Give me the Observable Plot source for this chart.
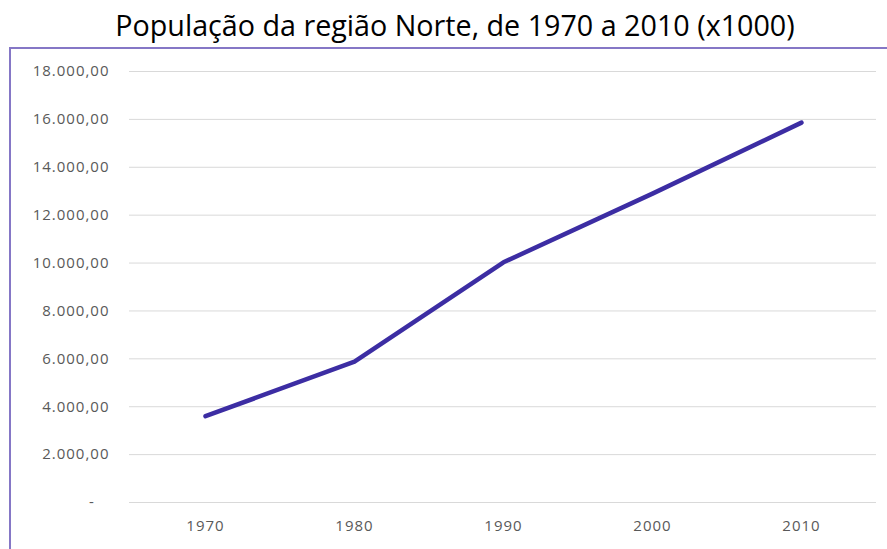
<!DOCTYPE html>
<html>
<head>
<meta charset="utf-8">
<script src="https://cdn.jsdelivr.net/npm/d3@7"></script>
<script src="https://cdn.jsdelivr.net/npm/@observablehq/plot@0.6"></script>
<style>
  html, body { margin: 0; padding: 0; background: #fff; overflow: hidden; width: 887px; height: 549px; }
  #title { position: absolute; left: 9px; width: 892px; top: 5px; text-align: center;
           font-family: "Open Sans", sans-serif; font-size: 28.7px; color: #000; line-height: 40px; white-space: nowrap; }
  #chart { position: absolute; left: 0; top: 47px; }
  #frame { position: absolute; left: 9px; top: 47px; width: 900px; height: 520px;
           border-left: 2px solid #8577c6; border-top: 2px solid #8577c6; box-sizing: border-box; pointer-events: none; }
  #chart svg text { letter-spacing: 1px; }
</style>
</head>
<body>
<div id="title">População da região Norte, de 1970 a 2010 (x1000)</div>
<div id="chart"></div>
<div id="frame"></div>
<script>
const years = ["1970", "1980", "1990", "2000", "2010"];
const population = [3603.86, 5880.27, 10030.56, 12900.70, 15864.45];
const yTicks = [0, 2000, 4000, 6000, 8000, 10000, 12000, 14000, 16000, 18000];

const data = years.map((y, i) => ({year: y, value: population[i]}));

const fmt = v => v === 0 ? "-\u00a0\u00a0\u00a0" :
  d3.format(",.2f")(v).replace(/,/g, "#").replace(".", ",").replace(/#/g, ".");

const plot = Plot.plot({
  width: 887,
  height: 502,
  marginTop: 24,
  marginBottom: 47,
  marginLeft: 129,
  marginRight: 11,
  style: {background: "transparent", fontFamily: "'Open Sans', sans-serif", fontSize: "15px", color: "#595959"},
  x: {type: "point", domain: years, padding: 0.5, label: null},
  y: {domain: [0, 18000], label: null},
  marks: [
    Plot.ruleY(yTicks, {stroke: "#d9d9d9", strokeWidth: 1}),
    Plot.axisY(yTicks, {tickSize: 0, tickPadding: 20, tickFormat: fmt, fill: "#595959", fontSize: 15, label: null}),
    Plot.axisX({tickSize: 0, tickPadding: 18, fill: "#595959", fontSize: 15, label: null}),
    Plot.line(data, {x: "year", y: "value", stroke: "#3c2da3", strokeWidth: 4.5, strokeLinecap: "round", strokeLinejoin: "round"})
  ]
});
document.getElementById("chart").appendChild(plot);
</script>
</body>
</html>
